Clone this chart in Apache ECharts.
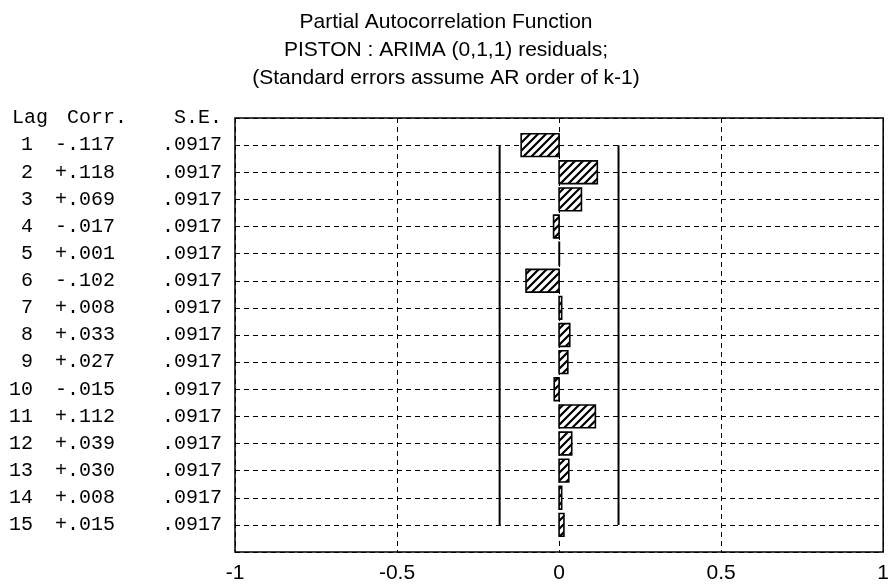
<!DOCTYPE html>
<html>
<head>
<meta charset="utf-8">
<script src="https://cdn.jsdelivr.net/npm/echarts@6/dist/echarts.min.js"></script>
<style>
  html, body { margin: 0; padding: 0; background: #fff; }
  #chart { width: 892px; height: 587px; }
</style>
</head>
<body>
<div id="chart"></div>
<script>
// lag number, partial autocorrelation and its standard error
var lags = [1, 2, 3, 4, 5, 6, 7, 8, 9, 10, 11, 12, 13, 14, 15];
var pacf = [-0.117, 0.118, 0.069, -0.017, 0.001, -0.102, 0.008, 0.033, 0.027, -0.015, 0.112, 0.039, 0.030, 0.008, 0.015];
var stdErr = [0.0917, 0.0917, 0.0917, 0.0917, 0.0917, 0.0917, 0.0917, 0.0917, 0.0917, 0.0917, 0.0917, 0.0917, 0.0917, 0.0917, 0.0917];
var xTicks = [-1, -0.5, 0, 0.5, 1];
var titleLines = [
  'Partial Autocorrelation Function',
  'PISTON : ARIMA (0,1,1) residuals;',
  '(Standard errors assume AR order of k-1)'
];

// 2 x S.E. limits
var limit = 2 * stdErr[0];

function corrText(v) {
  return (v < 0 ? '-' : '+') + Math.abs(v).toFixed(3).slice(1);
}
function seText(v) {
  return v.toFixed(4).slice(1);
}

// diagonal hatch for the bars
function hatch() {
  var c = document.createElement('canvas');
  c.width = 8; c.height = 8;
  var g = c.getContext('2d');
  g.fillStyle = '#fff';
  g.fillRect(0, 0, 8, 8);
  g.strokeStyle = '#000';
  g.lineWidth = 2.2;
  g.beginPath();
  g.moveTo(-1, 9); g.lineTo(9, -1);
  g.moveTo(-1, 1); g.lineTo(1, -1);
  g.moveTo(7, 9); g.lineTo(9, 7);
  g.stroke();
  return c;
}
var hatchImg = hatch();

var mono = '"Liberation Mono", "DejaVu Sans Mono", monospace';
var sans = '"Liberation Sans", Arial, sans-serif';

var chart = echarts.init(document.getElementById('chart'));

chart.setOption({
  animation: false,
  backgroundColor: '#fff',
  title: {
    text: titleLines.join('\n'),
    left: 'center',
    top: 3,
    textStyle: {
      fontFamily: sans,
      fontSize: 21,
      fontWeight: 'normal',
      color: '#000',
      lineHeight: 28
    }
  },
  grid: {
    left: 235,
    right: 4,
    top: 118,
    bottom: 35,
    show: true,
    borderColor: '#000',
    borderWidth: 1.5
  },
  xAxis: {
    type: 'value',
    min: xTicks[0],
    max: xTicks[xTicks.length - 1],
    interval: 0.5,
    axisLine: { show: false },
    axisTick: { show: false },
    axisLabel: {
      margin: 11,
      fontFamily: sans,
      fontSize: 21,
      color: '#000'
    },
    splitLine: {
      show: true,
      lineStyle: { color: '#000', width: 1, type: [5, 4] }
    }
  },
  yAxis: {
    type: 'value',
    inverse: true,
    min: 0,
    max: lags.length + 1,
    interval: 1,
    axisLine: { show: false },
    axisTick: { show: false },
    splitLine: {
      show: true,
      lineStyle: { color: '#000', width: 1, type: [5, 4] }
    },
    axisLabel: {
      margin: 13,
      color: '#000',
      fontFamily: mono,
      fontSize: 20,
      formatter: function (v) {
        if (v === 0) return '{h1|Lag}{h2|Corr.}{h3|S.E.}';
        var i = lags.indexOf(v);
        if (i < 0) return '';
        return '{a|' + lags[i] + '}{b|' + corrText(pacf[i]) + '}{c|' + seText(stdErr[i]) + '}';
      },
      rich: {
        h1: { width: 48, align: 'right', fontFamily: mono, fontSize: 20, color: '#000' },
        h2: { width: 79, align: 'right', fontFamily: mono, fontSize: 20, color: '#000' },
        h3: { width: 95, align: 'right', fontFamily: mono, fontSize: 20, color: '#000' },
        a: { width: 33, align: 'right', fontFamily: mono, fontSize: 20, color: '#000' },
        b: { width: 82, align: 'right', fontFamily: mono, fontSize: 20, color: '#000' },
        c: { width: 107, align: 'right', fontFamily: mono, fontSize: 20, color: '#000' }
      }
    }
  },
  series: [
    {
      type: 'custom',
      data: lags.map(function (l, i) { return [pacf[i], l]; }),
      renderItem: function (params, api) {
        var lag = api.value(1);
        var v = api.value(0);
        var p0 = api.coord([0, lag - 0.42]);
        var p1 = api.coord([v, lag + 0.42]);
        return {
          type: 'rect',
          shape: {
            x: Math.min(p0[0], p1[0]),
            y: Math.min(p0[1], p1[1]),
            width: Math.abs(p1[0] - p0[0]),
            height: Math.abs(p1[1] - p0[1])
          },
          style: {
            fill: { image: hatchImg, repeat: 'repeat' },
            stroke: '#000',
            lineWidth: 1.6
          },
          z2: 10
        };
      },
      z: 5
    },
    {
      type: 'line',
      data: [[-limit, lags[0]], [-limit, lags[lags.length - 1]]],
      symbol: 'none',
      lineStyle: { color: '#000', width: 2 },
      z: 4
    },
    {
      type: 'line',
      data: [[limit, lags[0]], [limit, lags[lags.length - 1]]],
      symbol: 'none',
      lineStyle: { color: '#000', width: 2 },
      z: 4
    }
  ]
});
</script>
</body>
</html>
